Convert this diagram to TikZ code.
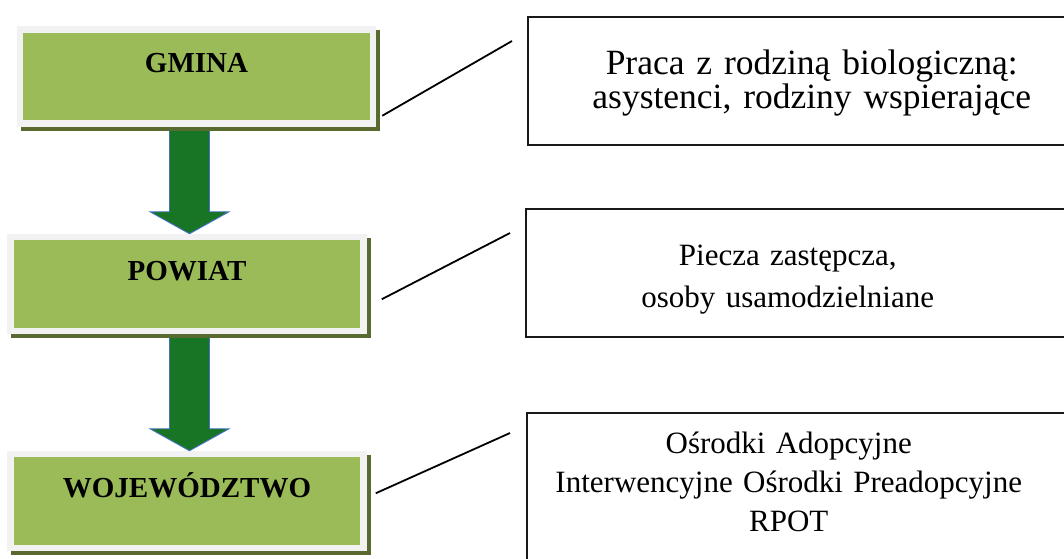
\documentclass[tikz,border=0pt]{standalone}
\usepackage{fontspec}
\setmainfont{Liberation Serif}
\usepackage{xcolor}
\usepackage{tikz}
\usetikzlibrary{calc,shadows,backgrounds}

\definecolor{boxgreen}{RGB}{155,187,89}
\definecolor{framegray}{RGB}{242,242,242}
\definecolor{shadowolive}{RGB}{88,106,48}
\definecolor{arrowgreen}{RGB}{24,117,38}
\definecolor{arrowblue}{RGB}{68,114,196}

\begin{document}
\begin{tikzpicture}[x=1pt, y=-1pt,
    level/.style={rectangle, fill=boxgreen, draw=framegray, line width=6.5pt, inner sep=0pt, minimum width=353pt, text height=43pt, text depth=51pt, font=\fontsize{29pt}{34pt}\selectfont\bfseries, drop shadow={shadow xshift=4pt, shadow yshift=-4pt, fill=shadowolive, draw=shadowolive, opacity=1}},
    infobox/.style={rectangle, draw=black!90, line width=1.5pt, anchor=north west, inner sep=0pt, text width=600pt, align=left, font=\fontsize{31pt}{39pt}\selectfont},
    callout/.style={line width=1.8pt},
    blockarrow/.style={fill=arrowgreen, draw=arrowblue, line width=0.9pt, to path={let \p1=(\tikztostart), \p2=(\tikztotarget) in (\x2-20pt,\y1) -- (\x2+20pt,\y1) -- (\x2+20pt,\y2+22pt) -- (\x2+39.5pt,\y2+22pt) -- (\x2,\y2) -- (\x2-39.5pt,\y2+22pt) -- (\x2-20pt,\y2+22pt) -- cycle}}
]
    \useasboundingbox (0,0) rectangle (1064,558);

    % Levels (left)
    \node[level] (gmina) at (196.5,76.5) {GMINA};
    \node[level] (powiat) at (187,284) {POWIAT};
    \node[level] (wojewodztwo) at (187,501) {WOJEWÓDZTWO};

    % Tasks (right)
    \node[infobox, font=\fontsize{35.5pt}{34pt}\selectfont, text height=58pt, text depth=70pt] (info_gmina) at (527,16) {\parbox[t]{568pt}{\centering Praca z rodziną biologiczną:\\ asystenci, rodziny wspierające}};
    \node[infobox, text height=57pt, text depth=71pt] (info_powiat) at (525,208) {\parbox[t]{524pt}{\centering Piecza zastępcza,\\[3pt] osoby usamodzielniane}};
    \node[infobox, text height=41pt, text depth=200pt] (info_woj) at (526,412) {\parbox[t]{524pt}{\centering Ośrodki Adopcyjne\\ Interwencyjne Ośrodki Preadopcyjne\\ RPOT}};

    % Arrows
    \begin{scope}[on background layer]
        \draw[blockarrow] (gmina.south) to ([xshift=2.5pt]powiat.north);
        \draw[blockarrow] (powiat.south) to ([xshift=2.5pt]wojewodztwo.north);
    \end{scope}

    % Callout lines
    \draw[callout] ([shift={(6pt,11pt)}]gmina.south east) -- ([shift={(-15pt,-25pt)}]info_gmina.north west);
    \draw[callout] ([shift={(15pt,35pt)}]powiat.south east) -- ([shift={(-15pt,-25pt)}]info_powiat.north west);
    \draw[callout] ([shift={(9pt,58pt)}]wojewodztwo.south east) -- ([shift={(-16pt,-21pt)}]info_woj.north west);
\end{tikzpicture}
\end{document}
